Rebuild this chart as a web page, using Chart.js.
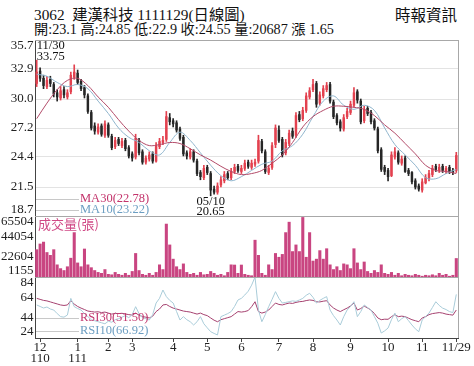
<!DOCTYPE html>
<html>
<head>
<meta charset="utf-8">
<script src="https://cdn.jsdelivr.net/npm/chart.js@4.4.1/dist/chart.umd.min.js"></script>
<style>
  html, body { margin: 0; padding: 0; background: #fff; }
  #wrap { position: relative; width: 474px; height: 366px; overflow: hidden; color: #111;
          font-family: "Liberation Serif", "Noto Sans CJK TC", serif; }
  #wrap canvas { position: absolute; left: 0; top: 0; }
  .hd { position: absolute; line-height: 1; white-space: pre; }
</style>
</head>
<body>
<div id="wrap">
  <div class="hd" style="left:34px;top:7px;font-size:15.3px;">3062  建漢科技 1111129(日線圖)</div>
  <div class="hd" style="left:395px;top:8px;font-size:15.5px;">時報資訊</div>
  <div class="hd" style="left:34px;top:21.5px;font-size:14.2px;">開:23.1 高:24.85 低:22.9 收:24.55 量:20687 漲 1.65</div>
  <canvas id="cPrice" width="474" height="366"></canvas>
  <canvas id="cVolume" width="474" height="366"></canvas>
  <canvas id="cRsi" width="474" height="366"></canvas>
</div>
<script>
"use strict"

// one point ~ two trading days, 110/11/30 .. 111/11/29
const open = [31.5,32.7,32.0,31.2,31.9,31.4,30.6,30.1,30.9,30.2,30.7,32.1,32.5,31.7,31.1,30.3,28.7,27.4,26.8,27.4,
  26.5,27.5,26.4,25.4,26.1,25.5,26.0,25.3,24.7,24.4,26.0,24.9,23.9,24.2,24.7,24.0,25.4,25.8,26.1,28.2,
  27.9,27.7,27.1,26.3,24.8,24.4,24.9,24.0,22.9,22.4,23.4,22.8,21.3,21.0,21.7,22.1,22.8,22.4,23.0,23.5,
  23.0,23.3,23.9,23.4,23.7,24.0,25.9,24.9,22.9,23.4,25.6,27.0,26.1,24.8,25.7,26.9,26.5,28.5,28.1,28.9,
  30.2,30.9,31.5,29.6,30.3,30.9,31.4,29.7,28.4,27.8,27.1,28.3,28.7,29.4,30.7,29.8,27.9,29.1,28.7,27.9,
  27.1,25.1,23.4,23.1,22.6,24.4,24.8,23.8,24.3,23.1,22.9,22.1,21.6,21.2,21.9,22.3,22.7,23.5,23.1,23.5,
  23.0,23.4,23.1,23.1];
const high = [33.75,33.0,32.3,32.2,32.2,31.6,30.9,31.2,31.2,30.9,32.6,33.3,32.8,31.9,31.3,30.5,28.9,27.7,27.6,27.6,
  27.9,27.7,26.6,26.3,26.3,26.2,26.2,25.5,24.9,26.6,26.2,25.1,24.5,24.9,24.9,25.8,26.2,26.4,28.8,28.6,
  28.1,27.9,27.3,26.5,25.0,25.2,25.1,24.2,23.1,23.6,23.6,23.0,21.6,21.9,22.5,23.0,23.0,23.3,23.7,23.7,
  23.6,24.1,24.1,24.1,24.2,26.5,26.1,25.1,23.6,25.8,27.5,27.4,26.3,26.1,27.0,27.2,28.7,28.8,29.2,30.6,
  31.1,31.9,31.7,30.7,31.3,31.6,31.6,29.9,28.6,28.0,28.5,29.1,29.8,31.1,30.9,30.0,29.3,29.3,28.9,28.1,
  27.3,25.3,23.6,23.3,24.9,25.3,25.0,24.5,24.5,23.3,23.0,22.3,21.8,22.3,22.7,23.1,23.6,23.7,23.7,23.7,
  23.5,23.6,23.3,24.85];
const low = [31.2,31.7,31.0,31.0,31.2,30.2,29.8,29.9,30.1,30.0,30.5,31.9,31.4,30.8,30.1,28.6,27.0,26.6,26.6,26.4,
  26.3,26.3,25.1,25.2,25.5,25.3,25.0,24.3,24.0,24.2,24.6,23.7,23.7,24.0,23.8,23.9,25.2,25.6,25.9,27.5,
  27.3,26.8,26.0,24.5,24.2,24.2,23.9,22.6,22.2,22.2,22.7,20.65,20.8,20.8,21.5,21.9,22.2,22.2,22.8,22.9,
  22.8,23.1,23.3,23.2,23.5,23.8,24.8,22.8,22.7,23.2,25.3,25.8,24.4,24.6,25.5,26.2,26.3,27.8,27.9,28.7,
  30.0,30.7,29.2,29.4,30.1,30.7,29.6,28.1,27.5,26.9,26.9,28.1,28.5,29.2,29.6,27.6,27.7,28.4,27.6,27.0,
  24.8,23.0,22.7,22.1,22.5,24.2,23.7,23.6,22.9,22.6,21.8,21.3,21.1,21.0,21.8,22.1,22.5,23.0,22.9,22.9,
  22.8,22.8,22.7,22.9];
const close = [32.6,32.0,31.3,31.8,31.5,30.5,30.2,30.8,30.4,30.6,32.3,32.6,31.6,31.0,30.4,28.8,27.2,26.9,27.3,26.6,
  27.6,26.5,25.3,26.0,25.7,25.9,25.2,24.5,24.3,26.2,24.8,23.9,24.3,24.6,24.0,25.5,25.9,26.0,28.3,27.8,
  27.6,27.0,26.2,24.7,24.5,24.9,24.1,22.8,22.5,23.3,22.9,21.2,21.0,21.6,22.2,22.7,22.4,23.0,23.4,23.1,
  23.3,23.8,23.5,23.8,23.9,26.0,25.0,23.0,23.3,25.5,27.2,26.0,24.6,25.8,26.7,26.4,28.4,28.0,28.9,30.3,
  30.8,31.4,29.5,30.4,31.0,31.3,29.8,28.3,27.7,27.2,28.2,28.8,29.5,30.6,29.9,27.8,29.0,28.6,27.8,27.2,
  25.0,23.2,23.0,22.5,24.6,24.9,23.9,24.2,23.0,22.8,22.0,21.5,21.3,22.0,22.4,22.8,23.3,23.2,23.4,23.1,
  23.3,23.0,22.9,24.55];
const volume = [30000,36000,38000,27000,24000,30000,14000,10000,8000,12000,21000,48000,16000,12000,30700,14000,11000,8000,6000,5000,
  9000,4000,3500,6000,4000,3000,5000,3000,7000,26000,8000,4000,3000,5000,3000,6000,14000,9000,57000,35000,
  20000,12000,9000,15000,6000,4000,5000,3000,6000,3500,4000,7000,5000,3000,4000,2500,6000,14000,13800,5000,
  13800,4000,3000,2500,40000,24000,5000,3000,14000,9000,26000,22000,25000,48000,59000,28000,35000,28000,64000,22000,
  48000,18000,20000,29000,20000,31000,14000,9000,12000,8000,15000,14000,10000,31000,16000,9000,17000,7000,5000,8000,
  6000,14000,5000,4000,6000,3000,5000,2500,4000,3000,2500,4000,3000,2000,3000,2500,3500,2500,5000,3000,
  4000,2000,3000,20687];
const rsi30 = [63.0,62.0,61.0,60.5,59.5,58.5,57.5,56.5,56.0,56.5,60.7,57.4,55.0,53.4,52.0,50.5,50.0,49.5,49.8,49.0,
  49.5,48.5,47.5,48.2,48.0,48.3,47.6,47.0,46.5,48.5,46.5,45.0,44.5,43.7,45.5,50.0,52.5,56.5,57.0,55.0,
  53.4,52.5,51.5,50.5,50.0,49.5,48.5,47.5,48.5,47.0,46.0,43.7,41.5,40.0,42.0,43.0,44.0,45.0,47.5,50.0,
  49.5,50.0,51.0,54.8,59.7,50.0,48.5,49.5,51.5,55.0,58.4,57.0,56.5,57.5,58.4,58.0,59.0,59.7,60.0,60.8,
  61.4,61.0,59.7,59.5,60.2,60.7,56.5,53.5,51.5,50.0,51.8,53.4,55.5,58.4,51.5,53.0,55.4,53.5,51.5,48.0,
  43.7,42.0,42.5,42.4,45.0,47.0,45.0,45.5,45.0,43.5,42.0,41.0,40.0,43.7,45.0,47.0,48.0,48.5,49.0,48.5,
  47.5,47.0,46.5,51.5];
const rsi10 = [56.5,55.0,53.5,54.5,52.5,51.5,48.0,45.0,44.5,46.6,63.0,54.8,53.0,51.5,48.0,45.0,42.0,41.0,40.0,39.0,
  38.0,40.5,39.5,42.0,43.0,44.5,46.0,44.0,47.0,54.8,48.0,44.0,43.0,41.7,47.0,58.4,63.0,71.2,64.7,61.0,
  58.4,50.0,41.7,45.0,42.0,40.0,36.8,40.0,45.0,38.0,34.0,30.2,28.5,27.0,45.0,46.5,48.0,50.0,55.0,61.4,
  63.0,66.3,70.0,76.0,84.0,51.5,40.0,47.0,54.8,62.0,69.6,63.0,58.4,59.0,59.7,60.5,60.0,61.4,63.0,66.0,
  68.0,64.0,58.4,61.0,63.0,64.7,51.5,46.0,41.7,36.8,45.0,51.5,55.0,59.7,45.0,50.0,56.5,54.0,51.5,45.0,
  38.5,28.9,31.0,33.8,42.0,48.5,40.0,43.0,45.0,41.0,36.8,33.0,30.2,41.7,45.0,48.5,54.0,59.7,56.0,53.4,
  52.0,50.0,49.0,66.9];
// moving averages read every 3rd point
const maStep = 3;
const ma10 = [32.4,32.2,31.6,31.2,31.4,31.0,29.8,28.6,27.2,26.3,25.8,25.0,24.6,25.8,26.8,26.0,24.8,23.6,22.6,22.1,
  22.5,23.1,23.7,24.0,25.0,25.5,26.6,28.3,29.8,30.3,29.4,29.0,29.4,28.9,27.2,25.6,24.6,23.6,22.4,22.3,
  22.8,23.2];
const ma30 = [28.1,29.6,30.9,31.8,32.0,31.3,30.2,29.2,28.0,26.9,26.0,25.5,25.6,25.8,25.7,25.2,24.6,24.1,23.5,23.0,
  22.7,22.8,23.1,23.8,24.6,25.8,27.3,28.3,28.9,29.3,29.3,29.2,29.0,28.4,27.5,26.7,25.7,24.7,23.6,23.1,
  23.0,22.8];

const priceTicks = [35.7, 32.9, 30.0, 27.2, 24.4, 21.5, 18.7];
const volumeTicks = [65504, 44054, 22604, 1155];
const rsiTicks = [84, 64, 44, 24];
const monthTicks = [1, 12, 21, 28, 40, 50, 60, 71, 81, 92, 103, 113, 123];
const monthLabels = [['12', '110'], ['1', '111'], '2', '3', '4', '5', '6', '7', '8', '9', '10', '11', '11/29'];

const N = close.length;
const idx = close.map((c, i) => i);
const serif = '"Liberation Serif", "Noto Sans CJK TC", serif';

const upColor = '#e3414f', downColor = '#262626';
const candleColor = ctx => close[ctx.dataIndex] >= open[ctx.dataIndex] ? upColor : downColor;

// y labels, frame lines and captions, drawn after each panel
const panelDeco = {
  id: 'panelDeco',
  afterDraw(chart, args, opts) {
    const ctx = chart.ctx, a = chart.chartArea, ys = chart.scales.y;
    ctx.save();
    ctx.font = '13px ' + serif;
    ctx.fillStyle = '#222';
    ctx.textAlign = 'right';
    ctx.textBaseline = 'middle';
    ys.ticks.forEach(t => {
      let y = ys.getPixelForValue(t.value);
      y = Math.min(Math.max(y, a.top + 6), a.bottom - 6);
      ctx.fillText(opts.fmt(t.value), a.left - 1.5, y);
    });
    ctx.lineWidth = 1;
    ctx.strokeStyle = '#a8a8a8';
    ctx.beginPath();
    ctx.moveTo(a.left, a.top + 0.5); ctx.lineTo(a.right, a.top + 0.5);
    ctx.moveTo(a.right + 0.5, a.top); ctx.lineTo(a.right + 0.5, a.bottom);
    ctx.stroke();
    if (opts.extra) opts.extra(chart, ctx);
    ctx.restore();
  }
};

function legendRows(ctx, a, rows) {
  ctx.textAlign = 'left';
  ctx.textBaseline = 'middle';
  ctx.font = '12.5px ' + serif;
  rows.forEach(r => {
    ctx.strokeStyle = '#c8c8c8';
    ctx.beginPath();
    ctx.moveTo(a.left + 1, r.y + 0.5); ctx.lineTo(a.left + 44, r.y + 0.5);
    ctx.stroke();
    ctx.fillStyle = r.color;
    ctx.fillText(r.text, a.left + 45, r.y);
  });
}

function makeChart(id, datasets, cfg) {
  return new Chart(document.getElementById(id), {
    data: { datasets },
    options: {
      responsive: false,
      animation: false,
      devicePixelRatio: 1,
      events: [],
      layout: { padding: { top: cfg.top, bottom: cfg.bottom, left: 0, right: 16 } },
      plugins: {
        legend: { display: false },
        tooltip: { enabled: false },
        panelDeco: { fmt: cfg.fmt, extra: cfg.extra }
      },
      scales: {
        x: cfg.x || { type: 'linear', min: -0.5, max: N - 0.5, offset: false, display: false },
        y: {
          type: 'linear', min: cfg.min, max: cfg.max,
          afterBuildTicks: s => { s.ticks = cfg.ticks.map(v => ({ value: v })); },
          afterFit: s => { s.width = 35; s.paddingTop = 0; s.paddingBottom = 0; },
          ticks: { display: false },
          grid: { display: !!cfg.grid, color: '#e3e3e3', drawTicks: false },
          border: { color: '#444' }
        }
      }
    },
    plugins: [panelDeco]
  });
}

makeChart('cPrice', [
  { type: 'line', order: 0, data: ma30.map((v, k) => ({ x: k * maStep, y: v })),
    borderColor: '#b24a68', borderWidth: 1, pointRadius: 0, tension: 0.35 },
  { type: 'line', order: 0, data: ma10.map((v, k) => ({ x: k * maStep, y: v })),
    borderColor: '#8fb5cd', borderWidth: 1, pointRadius: 0, tension: 0.35 },
  { type: 'bar', order: 2, grouped: false, barThickness: 1,
    data: idx.map(i => ({ x: i, y: [low[i], high[i]] })), backgroundColor: candleColor },
  { type: 'bar', order: 1, grouped: false, barThickness: 1.8, minBarLength: 1,
    data: idx.map(i => ({ x: i, y: [open[i], close[i]] })), backgroundColor: candleColor }
], {
  top: 40, bottom: 150, min: 18.7, max: 35.7, ticks: priceTicks, grid: true,
  fmt: v => v.toFixed(1),
  extra: (chart, ctx) => {
    const a = chart.chartArea, xs = chart.scales.x, ys = chart.scales.y;
    legendRows(ctx, a, [
      { y: 199, text: 'MA30(22.78)', color: '#c3336b' },
      { y: 210, text: 'MA10(23.22)', color: '#6c9ec2' }
    ]);
    ctx.fillStyle = '#111';
    ctx.font = '12.5px ' + serif;
    const hx = xs.getPixelForValue(0), hy = ys.getPixelForValue(high[0]);
    ctx.textAlign = 'left';
    ctx.fillText('11/30', hx, hy - 14);
    ctx.fillText('33.75', hx, hy - 3);
    const lx = xs.getPixelForValue(51), ly = ys.getPixelForValue(low[51]);
    ctx.textAlign = 'center';
    ctx.fillText('05/10', lx, ly + 6);
    ctx.fillText('20.65', lx, ly + 16);
  }
});

makeChart('cVolume', [
  { type: 'bar', barThickness: 2.4, data: idx.map(i => ({ x: i, y: volume[i] })), backgroundColor: '#c94581' }
], {
  top: 216, bottom: 89, min: 1155, max: 65504, ticks: volumeTicks,
  fmt: v => String(v),
  extra: (chart, ctx) => {
    const a = chart.chartArea;
    ctx.fillStyle = '#d04a86';
    ctx.font = '13px "Noto Sans CJK TC", ' + serif;
    ctx.textAlign = 'left';
    ctx.textBaseline = 'middle';
    ctx.fillText('成交量(張)', a.left + 3, a.top + 8);
  }
});

makeChart('cRsi', [
  { type: 'line', data: idx.map(i => ({ x: i, y: rsi10[i] })),
    borderColor: '#a9ccd9', borderWidth: 1, pointRadius: 0, tension: 0 },
  { type: 'line', data: idx.map(i => ({ x: i, y: rsi30[i] })),
    borderColor: '#a5416f', borderWidth: 1, pointRadius: 0, tension: 0 }
], {
  top: 277, bottom: 0, min: 24, max: 84, ticks: rsiTicks,
  fmt: v => String(v),
  x: {
    type: 'linear', min: -0.5, max: N - 0.5, offset: false,
    afterBuildTicks: s => { s.ticks = monthTicks.map(v => ({ value: v })); },
    afterFit: s => { s.height = 28; s.paddingLeft = 0; s.paddingRight = 0; },
    ticks: { autoSkip: false, maxRotation: 0, padding: 0, color: '#222',
             font: { family: serif, size: 13, lineHeight: 0.85 },
             callback: (v, i) => monthLabels[i] },
    grid: { drawOnChartArea: false, offset: false, tickLength: 4, color: '#444' },
    border: { color: '#444' }
  },
  extra: (chart, ctx) => {
    legendRows(ctx, chart.chartArea, [
      { y: 318, text: 'RSI30(51.50)', color: '#c2386f' },
      { y: 331, text: 'RSI10(66.92)', color: '#6c9ec2' }
    ]);
  }
});
</script>
</body>
</html>
